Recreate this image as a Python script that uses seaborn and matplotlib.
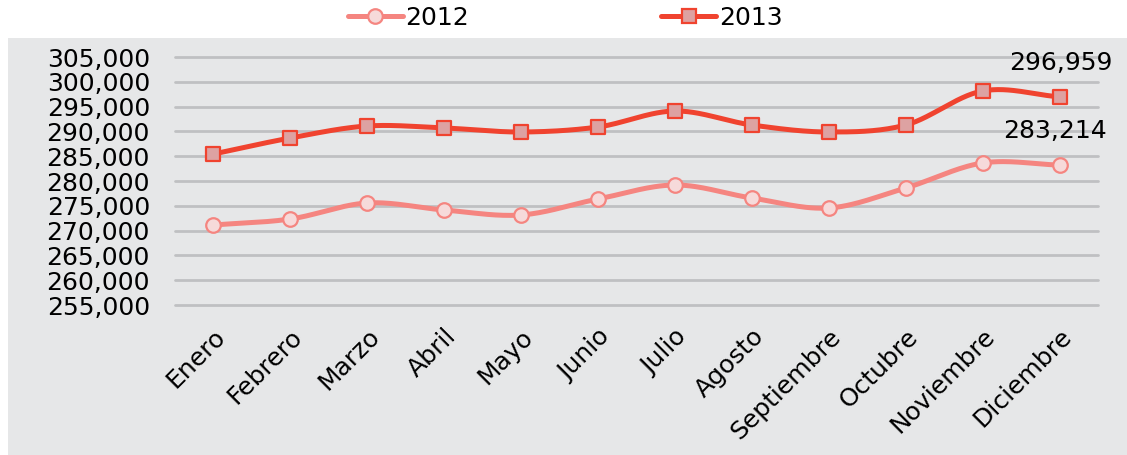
"""
Monthly totals 2012 vs 2013 — smoothed line chart in Excel style.
"""

import numpy as np
import pandas as pd
import matplotlib
matplotlib.use('Agg')
import matplotlib.pyplot as plt
from matplotlib.patches import Rectangle
from matplotlib.ticker import FuncFormatter
import seaborn as sns

# ── Data ───────────────────────────────────────────────────────────────────────
months = ['Enero', 'Febrero', 'Marzo', 'Abril', 'Mayo', 'Junio', 'Julio',
          'Agosto', 'Septiembre', 'Octubre', 'Noviembre', 'Diciembre']
values_2012 = [271130, 272340, 275570, 274150, 273150, 276370, 279190,
               276570, 274560, 278590, 283630, 283214]
values_2013 = [285440, 288670, 291090, 290690, 289880, 290890, 294110,
               291290, 289880, 291290, 298150, 296959]
y_ticks = list(range(255000, 305001, 5000))

C2012, F2012 = '#F58580', '#F6DADA'
C2013, F2013 = '#F0432F', '#DDA2A2'


def smooth(y, n=30):
    """Catmull-Rom curve through the points (like Excel's smoothed line)."""
    y = np.asarray(y, dtype=float)
    x = np.arange(len(y), dtype=float)
    px = np.concatenate([[2 * x[0] - x[1]], x, [2 * x[-1] - x[-2]]])
    py = np.concatenate([[2 * y[0] - y[1]], y, [2 * y[-1] - y[-2]]])
    xs, ys = [], []
    t = np.linspace(0, 1, n, endpoint=False)
    for i in range(1, len(px) - 2):
        p0, p1, p2, p3 = py[i - 1], py[i], py[i + 1], py[i + 2]
        q0, q1, q2, q3 = px[i - 1], px[i], px[i + 1], px[i + 2]
        h00 = 2 * t**3 - 3 * t**2 + 1
        h10 = t**3 - 2 * t**2 + t
        h01 = -2 * t**3 + 3 * t**2
        h11 = t**3 - t**2
        ys.append(h00 * p1 + h10 * (p2 - p0) / 2 + h01 * p2 + h11 * (p3 - p1) / 2)
        xs.append(h00 * q1 + h10 * (q2 - q0) / 2 + h01 * q2 + h11 * (q3 - q1) / 2)
    xs.append([x[-1]])
    ys.append([y[-1]])
    return np.concatenate(xs), np.concatenate(ys)


df = pd.DataFrame({'x': np.arange(len(months)), '2012': values_2012, '2013': values_2013})

# ── Plot ───────────────────────────────────────────────────────────────────────
sns.set_style('white')
plt.rcParams['font.family'] = ['DejaVu Sans']
plt.rcParams['text.color'] = 'black'
plt.rcParams['xtick.color'] = 'black'
plt.rcParams['ytick.color'] = 'black'

fig = plt.figure(figsize=(11.27, 4.55), dpi=100)
fig.patches.append(Rectangle((8 / 1127, 0), 1 - 8 / 1127, 417 / 455,
                             transform=fig.transFigure, facecolor='#E6E7E8',
                             edgecolor='none', zorder=-10))
ax = fig.add_axes([175 / 1127, 150 / 455, 923 / 1127, 248 / 455])
ax.set_facecolor('none')

for yr, col, face, mk, sz in [('2012', C2012, F2012, 'o', 110), ('2013', C2013, F2013, 's', 95)]:
    sx, sy = smooth(df[yr])
    sns.lineplot(x=sx, y=sy, color=col, lw=3.6, ax=ax, zorder=3, sort=False)
    sns.scatterplot(x=df['x'], y=df[yr], marker=mk, s=sz, color=face,
                    edgecolor=col, linewidth=1.6, ax=ax, zorder=4)
    ax.plot([], [], color=col, lw=3.6, marker=mk, ms=np.sqrt(sz), mfc=face, mec=col,
            mew=1.6, label=yr)

ax.annotate(f'{values_2013[-1]:,}', (11, values_2013[-1]), xytext=(38, 16),
            textcoords='offset points', ha='right', va='bottom', fontsize=18)
ax.annotate(f'{values_2012[-1]:,}', (11, values_2012[-1]), xytext=(34, 16),
            textcoords='offset points', ha='right', va='bottom', fontsize=18)

ax.set_xlim(-0.5, 11.5)
ax.set_ylim(255000, 305000)
ax.set_yticks(y_ticks)
ax.yaxis.set_major_formatter(FuncFormatter(lambda v, p: f'{int(v):,}'))
ax.set_xticks(df['x'])
ax.set_xticklabels(months, rotation=45, ha='right', rotation_mode='anchor')
ax.tick_params(axis='both', length=0, labelsize=18, pad=18)
ax.tick_params(axis='x', pad=14)
ax.grid(axis='y', color='#BFC0C2', lw=2)
for gl in ax.get_ygridlines():
    gl.set_clip_on(False)
ax.set_axisbelow(True)
for s in ax.spines.values():
    s.set_visible(False)
ax.set_xlabel('')
ax.set_ylabel('')

ax.legend(loc='center', bbox_to_anchor=(0.4225, 1 + 39 / 248), ncol=2, frameon=False,
          fontsize=18, handlelength=2.2, columnspacing=7.7, handletextpad=0.1,
          borderaxespad=0, borderpad=0)

plt.savefig('out.png', dpi=100)
plt.close()
